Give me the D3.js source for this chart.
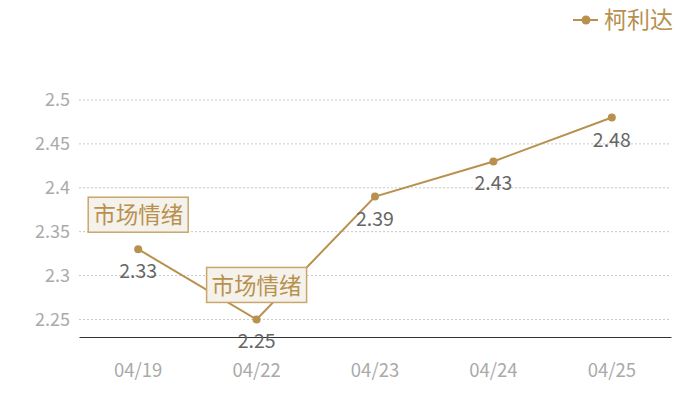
<!DOCTYPE html>
<html>
<head>
<meta charset="utf-8">
<script src="https://cdn.jsdelivr.net/npm/d3@7"></script>
<style>
  body { margin: 0; background: #fff; }
  text { font-family: "Noto Sans CJK SC", "Noto Sans", sans-serif; }
</style>
</head>
<body>
<div class="chart"></div>
<script>
// DATA ------------------------------------
const dates = ['04/19', '04/22', '04/23', '04/24', '04/25'];
const values = [2.33, 2.25, 2.39, 2.43, 2.48];
const yTicks = [2.25, 2.3, 2.35, 2.4, 2.45, 2.5];
const seriesName = '柯利达';
const annotations = [
  { date: '04/19', text: '市场情绪' },
  { date: '04/22', text: '市场情绪' }
];

const gold = '#b8914f';

// CHART INIT ------------------------------
const margin = { top: 100, right: 29, bottom: 63, left: 79 };
const width = 700 - margin.left - margin.right;
const height = 400 - margin.top - margin.bottom;

const svg = d3
  .select('.chart')
  .append('svg')
  .attr('width', 700)
  .attr('height', 400);

const group = svg
  .append('g')
  .attr('transform', 'translate(' + margin.left + ',' + margin.top + ')');

const xScale = d3.scaleBand().domain(dates).range([0, width]);
const yScale = d3.scaleLinear().domain([2.23, 2.5]).range([height, 0]);
const cx = (d) => xScale(d) + xScale.bandwidth() / 2;

// gridlines
group
  .selectAll('.grid')
  .data(yTicks)
  .enter()
  .append('line')
  .attr('x1', 0)
  .attr('x2', width)
  .attr('y1', (d) => yScale(d))
  .attr('y2', (d) => yScale(d))
  .attr('stroke', '#c8c8c8')
  .attr('stroke-dasharray', '2,2');

// y axis labels
const yAxis = d3.axisLeft(yScale).tickValues(yTicks).tickSize(0).tickPadding(9).tickFormat(d3.format(''));
const yAxisGroup = group.append('g').call(yAxis);
yAxisGroup.select('.domain').remove();
yAxisGroup.selectAll('text').attr('fill', '#aaa').attr('font-size', 18);

// x axis
const xAxis = d3.axisBottom(xScale).tickSize(0).tickPadding(27);
const xAxisGroup = group.append('g').attr('transform', 'translate(0,' + height + ')').call(xAxis);
xAxisGroup.select('.domain').attr('stroke', '#333');
xAxisGroup.selectAll('text').attr('fill', '#aaa').attr('font-size', 18.5);

// line
const line = d3
  .line()
  .x((d, i) => cx(dates[i]))
  .y((d) => yScale(d));

group
  .append('path')
  .datum(values)
  .attr('d', line)
  .attr('fill', 'none')
  .attr('stroke', gold)
  .attr('stroke-width', 2);

group
  .selectAll('.dot')
  .data(values)
  .enter()
  .append('circle')
  .attr('cx', (d, i) => cx(dates[i]))
  .attr('cy', (d) => yScale(d))
  .attr('r', 4)
  .attr('fill', gold);

// annotation boxes
const ann = group
  .selectAll('.ann')
  .data(annotations)
  .enter()
  .append('g')
  .attr('transform', (d) => {
    const v = values[dates.indexOf(d.date)];
    return 'translate(' + cx(d.date) + ',' + (yScale(v) - 17) + ')';
  });

ann
  .append('rect')
  .attr('x', -50)
  .attr('y', -35)
  .attr('width', 100)
  .attr('height', 35)
  .attr('fill', '#f5f1eb')
  .attr('stroke', '#c9a66c')
  .attr('stroke-width', 1.5);

ann
  .append('text')
  .attr('y', -17)
  .attr('dy', '0.36em')
  .attr('text-anchor', 'middle')
  .attr('font-size', 22.5)
  .attr('fill', gold)
  .text((d) => d.text);

// value labels
group
  .selectAll('.val')
  .data(values)
  .enter()
  .append('text')
  .attr('x', (d, i) => cx(dates[i]))
  .attr('y', (d) => yScale(d) + 22)
  .attr('dy', '0.36em')
  .attr('text-anchor', 'middle')
  .attr('font-size', 19.5)
  .attr('fill', '#666')
  .text((d) => d);

// legend
const legend = svg.append('g').attr('transform', 'translate(573,20)');
legend.append('line').attr('x1', 0).attr('x2', 25).attr('stroke', gold).attr('stroke-width', 2);
legend.append('circle').attr('cx', 13).attr('r', 4.5).attr('fill', gold);
legend
  .append('text')
  .attr('x', 31)
  .attr('dy', '0.36em')
  .attr('font-size', 23)
  .attr('fill', gold)
  .text(seriesName);
</script>
</body>
</html>
